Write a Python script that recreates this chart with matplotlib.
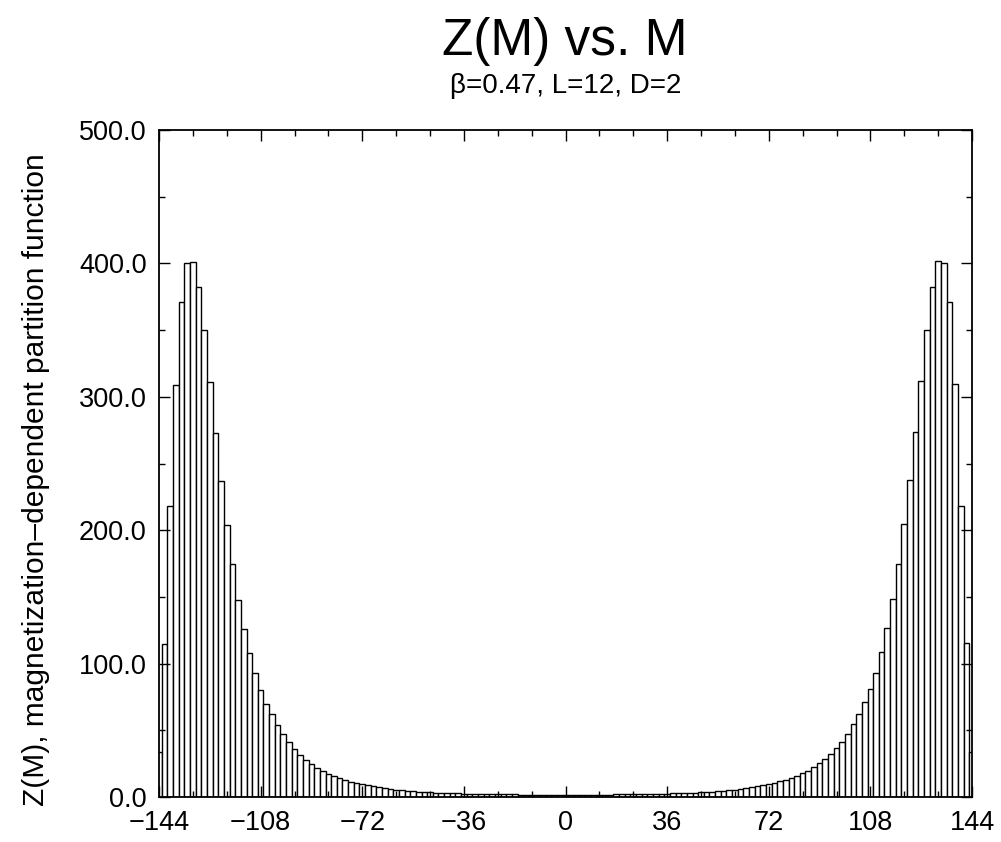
import numpy as np
import matplotlib
matplotlib.use("Agg")
import matplotlib.pyplot as plt
from matplotlib.ticker import MultipleLocator, FixedLocator

plt.rcParams['font.family'] = ['Liberation Sans', 'DejaVu Sans']

# magnetization values, M = -144 ... 144 in steps of 2
M = np.arange(-144, 146, 2)

# Z(M) (left half incl. M=0, then right half)
z_left = [34, 115, 218, 309, 371, 400, 401, 382, 350, 311,
          273, 237, 204, 175, 148, 126, 108, 93, 80, 70,
          62, 54, 47, 41, 36, 31.6, 27.9, 24.5, 21.7, 19.5,
          17.5, 15.8, 14.1, 12.8, 11.6, 10.5, 9.6, 8.7, 7.9, 7.2,
          6.6, 6.0, 5.5, 5.0, 4.6, 4.2, 3.9, 3.6, 3.4, 3.2,
          3.0, 2.9, 2.8, 2.7, 2.6, 2.5, 2.4, 2.3, 2.2, 2.1,
          2.0, 2.0, 1.9, 1.9, 1.8, 1.8, 1.8, 1.7, 1.7, 1.7,
          1.7, 1.7, 1.7]
z_right = [1.7, 1.7, 1.7, 1.7, 1.7, 1.8, 1.8, 1.8, 1.9, 1.9,
           2.0, 2.0, 2.1, 2.2, 2.3, 2.4, 2.5, 2.6, 2.7, 2.8,
           2.9, 3.0, 3.2, 3.4, 3.6, 3.9, 4.2, 4.6, 5.0, 5.5,
           6.0, 6.6, 7.2, 7.9, 8.7, 9.6, 10.6, 11.7, 12.9, 14.2,
           15.9, 17.7, 19.8, 22.8, 25.3, 28.3, 32.4, 36.4, 41.6, 47.3,
           54.7, 62.4, 70.9, 80.8, 93.2, 109, 126.8, 148.7, 175, 204.7,
           237.9, 273.3, 311.5, 350.2, 382.4, 401.5, 400, 371.2, 309.3, 218.3,
           115.5, 33.7]
Z = np.array(z_left + z_right)

title = "Z(M) vs. M"
subtitle = "\u03b2=0.47, L=12, D=2"
ylabel = "Z(M), magnetization\u2013dependent partition function"
xticks = [-144, -108, -72, -36, 0, 36, 72, 108, 144]
xticklabels = ["\u2212144", "\u2212108", "\u221272", "\u221236", "0",
               "36", "72", "108", "144"]
yticks = [0, 100, 200, 300, 400, 500]

fig = plt.figure(figsize=(10.01, 8.42), dpi=100)
ax = fig.add_axes([159 / 1001, 1 - 797 / 842, 813 / 1001, 667 / 842])

ax.bar(M, Z, width=2.0, color='white', edgecolor='black', linewidth=1.0)

ax.set_xlim(-144, 144)
ax.set_ylim(0, 500)
ax.xaxis.set_major_locator(FixedLocator(xticks))
ax.xaxis.set_minor_locator(MultipleLocator(12))
ax.set_xticklabels(xticklabels)
ax.yaxis.set_major_locator(FixedLocator(yticks))
ax.yaxis.set_minor_locator(MultipleLocator(50))
ax.set_yticklabels([f"{v:.1f}" for v in yticks])

ax.tick_params(which='both', direction='in', top=True, right=True,
               labelsize=19.5, width=1.0)
ax.tick_params(which='major', length=8, pad=9)
ax.tick_params(which='minor', length=4)
for sp in ax.spines.values():
    sp.set_linewidth(1.3)

fig.text(36 / 1001, 1 - 480 / 842, ylabel, rotation=90,
         ha='center', va='center', fontsize=21.5)

fig.text(565 / 1001, 1 - 42 / 842, title, ha='center', va='center', fontsize=37)
fig.text(566 / 1001, 1 - 86 / 842, subtitle, ha='center', va='center', fontsize=20)

fig.savefig("out.png", dpi=100)
